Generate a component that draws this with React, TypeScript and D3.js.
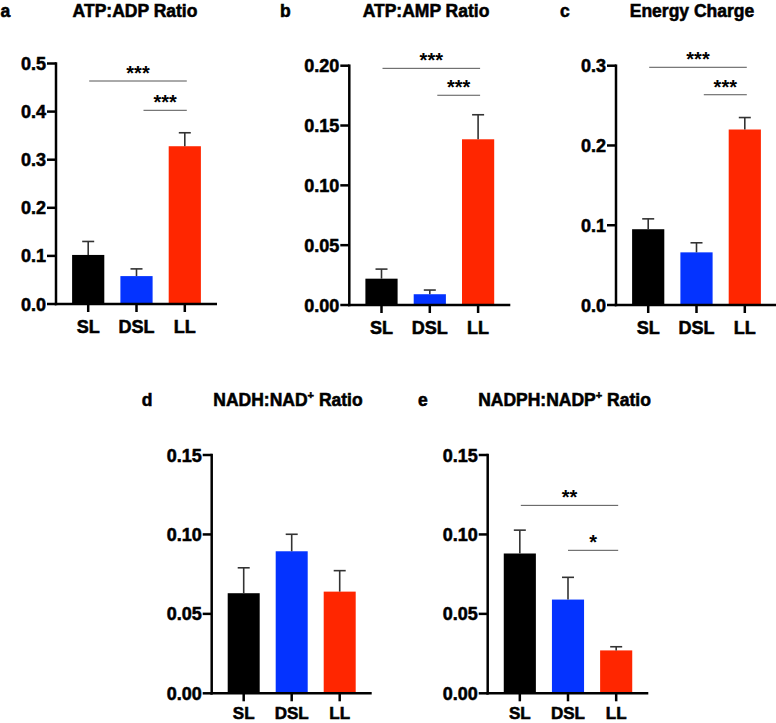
import React from 'react';
import * as d3 from 'd3';

const categories = ['SL', 'DSL', 'LL'];
const barColors = ['#000000', '#0433FF', '#FF2600'];

// a: ATP:ADP
const atpAdpMean = [0.102, 0.058, 0.328];
const atpAdpErr = [0.028, 0.015, 0.028];
const atpAdpTicks = [0, 0.1, 0.2, 0.3, 0.4, 0.5];
// b: ATP:AMP
const atpAmpMean = [0.022, 0.009, 0.1385];
const atpAmpErr = [0.008, 0.0035, 0.0205];
const atpAmpTicks = [0, 0.05, 0.1, 0.15, 0.2];
// c: Energy charge
const energyMean = [0.095, 0.066, 0.22];
const energyErr = [0.013, 0.012, 0.015];
const energyTicks = [0, 0.1, 0.2, 0.3];
// d: NADH:NAD+
const nadhMean = [0.063, 0.0894, 0.064];
const nadhErr = [0.016, 0.0107, 0.0132];
const nadhTicks = [0, 0.05, 0.1, 0.15];
// e: NADPH:NADP+
const nadphMean = [0.088, 0.059, 0.027];
const nadphErr = [0.0147, 0.014, 0.0023];
const nadphTicks = [0, 0.05, 0.1, 0.15];

// significance brackets: [fromIndex, toIndex, yValue, label]
const atpAdpSig: [number, number, number, string][] = [[0, 2, 0.4636, '***'], [1, 2, 0.4027, '***']];
const atpAmpSig: [number, number, number, string][] = [[0, 2, 0.1978, '***'], [1, 2, 0.1753, '***']];
const energySig: [number, number, number, string][] = [[0, 2, 0.298, '***'], [1, 2, 0.2636, '***']];
const nadhSig: [number, number, number, string][] = [];
const nadphSig: [number, number, number, string][] = [[0, 2, 0.1183, '**'], [1, 2, 0.09, '*']];

const FONT = '"Liberation Sans", Arial, Helvetica, sans-serif';

type PanelCfg = {
  letter: string;
  title: string;
  sup?: string;
  titleRest?: string;
  mean: number[];
  err: number[];
  ticks: number[];
  decimals: number;
  sig: [number, number, number, string][];
};

type Layout = {
  axisX: number;
  y0: number;
  yTop: number;
  width: number;
  titleX: number;
  titleY: number;
  letterX: number;
  adjShift: number;
  labelDy: number;
  labelSize: number;
};

const panels: PanelCfg[] = [
  { letter: 'a', title: 'ATP:ADP Ratio', mean: atpAdpMean, err: atpAdpErr, ticks: atpAdpTicks, decimals: 1, sig: atpAdpSig },
  { letter: 'b', title: 'ATP:AMP Ratio', mean: atpAmpMean, err: atpAmpErr, ticks: atpAmpTicks, decimals: 2, sig: atpAmpSig },
  { letter: 'c', title: 'Energy Charge', mean: energyMean, err: energyErr, ticks: energyTicks, decimals: 1, sig: energySig },
  { letter: 'd', title: 'NADH:NAD', sup: '+', titleRest: ' Ratio', mean: nadhMean, err: nadhErr, ticks: nadhTicks, decimals: 2, sig: nadhSig },
  { letter: 'e', title: 'NADPH:NADP', sup: '+', titleRest: ' Ratio', mean: nadphMean, err: nadphErr, ticks: nadphTicks, decimals: 2, sig: nadphSig },
];

const layouts: Layout[] = [
  { axisX: 56, y0: 304, yTop: 63.5, width: 161, titleX: 135, titleY: 16.5, letterX: 0.5, adjShift: 7, labelDy: 29, labelSize: 18 },
  { axisX: 349.3, y0: 305, yTop: 65.7, width: 161, titleX: 426, titleY: 16.5, letterX: 280, adjShift: 7.5, labelDy: 29, labelSize: 18 },
  { axisX: 616, y0: 305, yTop: 65.7, width: 161, titleX: 692, titleY: 16.5, letterX: 560, adjShift: 7.3, labelDy: 29, labelSize: 18 },
  { axisX: 211.7, y0: 693.3, yTop: 455, width: 160, titleX: 288, titleY: 406, letterX: 141.7, adjShift: 0, labelDy: 25.7, labelSize: 17 },
  { axisX: 487.7, y0: 693.3, yTop: 455, width: 160.6, titleX: 564.5, titleY: 406, letterX: 418, adjShift: 0, labelDy: 25.7, labelSize: 17 },
];

const heavy = { stroke: '#000', strokeWidth: 0.55, paintOrder: 'stroke' as const };

function Panel({ cfg, lay }: { cfg: PanelCfg; lay: Layout }) {
  const x = d3
    .scaleBand<string>()
    .domain(categories)
    .range([lay.axisX, lay.axisX + lay.width])
    .paddingInner(1 / 3)
    .paddingOuter(1 / 3);
  const yMax = cfg.ticks[cfg.ticks.length - 1];
  const y = d3.scaleLinear().domain([0, yMax]).range([lay.y0, lay.yTop]);
  const fmt = d3.format(`.${cfg.decimals}f`);
  const bw = x.bandwidth();
  const cx = (c: string) => (x(c) as number) + bw / 2;
  const capHalf = 6;
  const tickLen = 9;

  return (
    <g fontFamily={FONT} fontWeight="bold">
      {/* panel letter */}
      <text x={lay.letterX} y={lay.titleY} fontSize={17.5} textAnchor="start" fill="#000" style={heavy}>
        {cfg.letter}
      </text>
      {/* title */}
      <text x={lay.titleX} y={lay.titleY} fontSize={17.5} textAnchor="middle" fill="#000" style={heavy}>
        {cfg.title}
        {cfg.sup && (
          <tspan fontSize={11} dy={-7}>
            {cfg.sup}
          </tspan>
        )}
        {cfg.titleRest && <tspan dy={cfg.sup ? 7 : 0}>{cfg.titleRest}</tspan>}
      </text>

      {/* bars */}
      {categories.map((c, i) => (
        <rect key={c} x={x(c)} y={y(cfg.mean[i])} width={bw} height={lay.y0 - y(cfg.mean[i])} fill={barColors[i]} />
      ))}
      {/* error bars */}
      {categories.map((c, i) => {
        const top = y(cfg.mean[i] + cfg.err[i]);
        return (
          <g key={'e' + c} stroke="#333" strokeWidth={1.6}>
            <line x1={cx(c)} x2={cx(c)} y1={y(cfg.mean[i])} y2={top} />
            <line x1={cx(c) - capHalf} x2={cx(c) + capHalf} y1={top} y2={top} />
          </g>
        );
      })}

      {/* y axis */}
      <line x1={lay.axisX} x2={lay.axisX} y1={lay.y0 + 1.25} y2={lay.yTop - 1.25} stroke="#000" strokeWidth={2.5} />
      {cfg.ticks.map((t) => (
        <g key={'t' + t}>
          <line x1={lay.axisX - tickLen} x2={lay.axisX} y1={y(t)} y2={y(t)} stroke="#000" strokeWidth={2.5} />
          <text x={lay.axisX - tickLen - 1} y={y(t) + 6.5} fontSize={18} textAnchor="end" fill="#000" style={heavy}>
            {fmt(t)}
          </text>
        </g>
      ))}
      {/* x axis */}
      <line x1={lay.axisX - 1.25} x2={lay.axisX + lay.width} y1={lay.y0} y2={lay.y0} stroke="#000" strokeWidth={2.5} />
      {categories.map((c) => (
        <g key={'x' + c}>
          <line x1={cx(c)} x2={cx(c)} y1={lay.y0} y2={lay.y0 + 8} stroke="#000" strokeWidth={2.5} />
          <text x={cx(c)} y={lay.y0 + lay.labelDy} fontSize={lay.labelSize} textAnchor="middle" fill="#000" style={heavy}>
            {c}
          </text>
        </g>
      ))}

      {/* significance */}
      {cfg.sig.map(([a, b, v, lab], k) => {
        const x1 = cx(categories[a]) + (b - a === 1 ? lay.adjShift : 1);
        const x2 = cx(categories[b]) + 2;
        const yy = y(v);
        return (
          <g key={'s' + k}>
            <line x1={x1} x2={x2} y1={yy} y2={yy} stroke="#555" strokeWidth={1} />
            <text x={(x1 + x2) / 2} y={yy - 1} fontSize={20} textAnchor="middle" fill="#000">
              {lab}
            </text>
          </g>
        );
      })}
    </g>
  );
}

export default function App() {
  return (
    <svg
      width={776}
      height={723}
      viewBox="0 0 776 723"
      style={{ position: 'absolute', left: 0, top: 0, background: '#fff' }}
    >
      <rect x={0} y={0} width={776} height={723} fill="#fff" />
      {panels.map((p, i) => (
        <Panel key={p.letter} cfg={p} lay={layouts[i]} />
      ))}
    </svg>
  );
}
